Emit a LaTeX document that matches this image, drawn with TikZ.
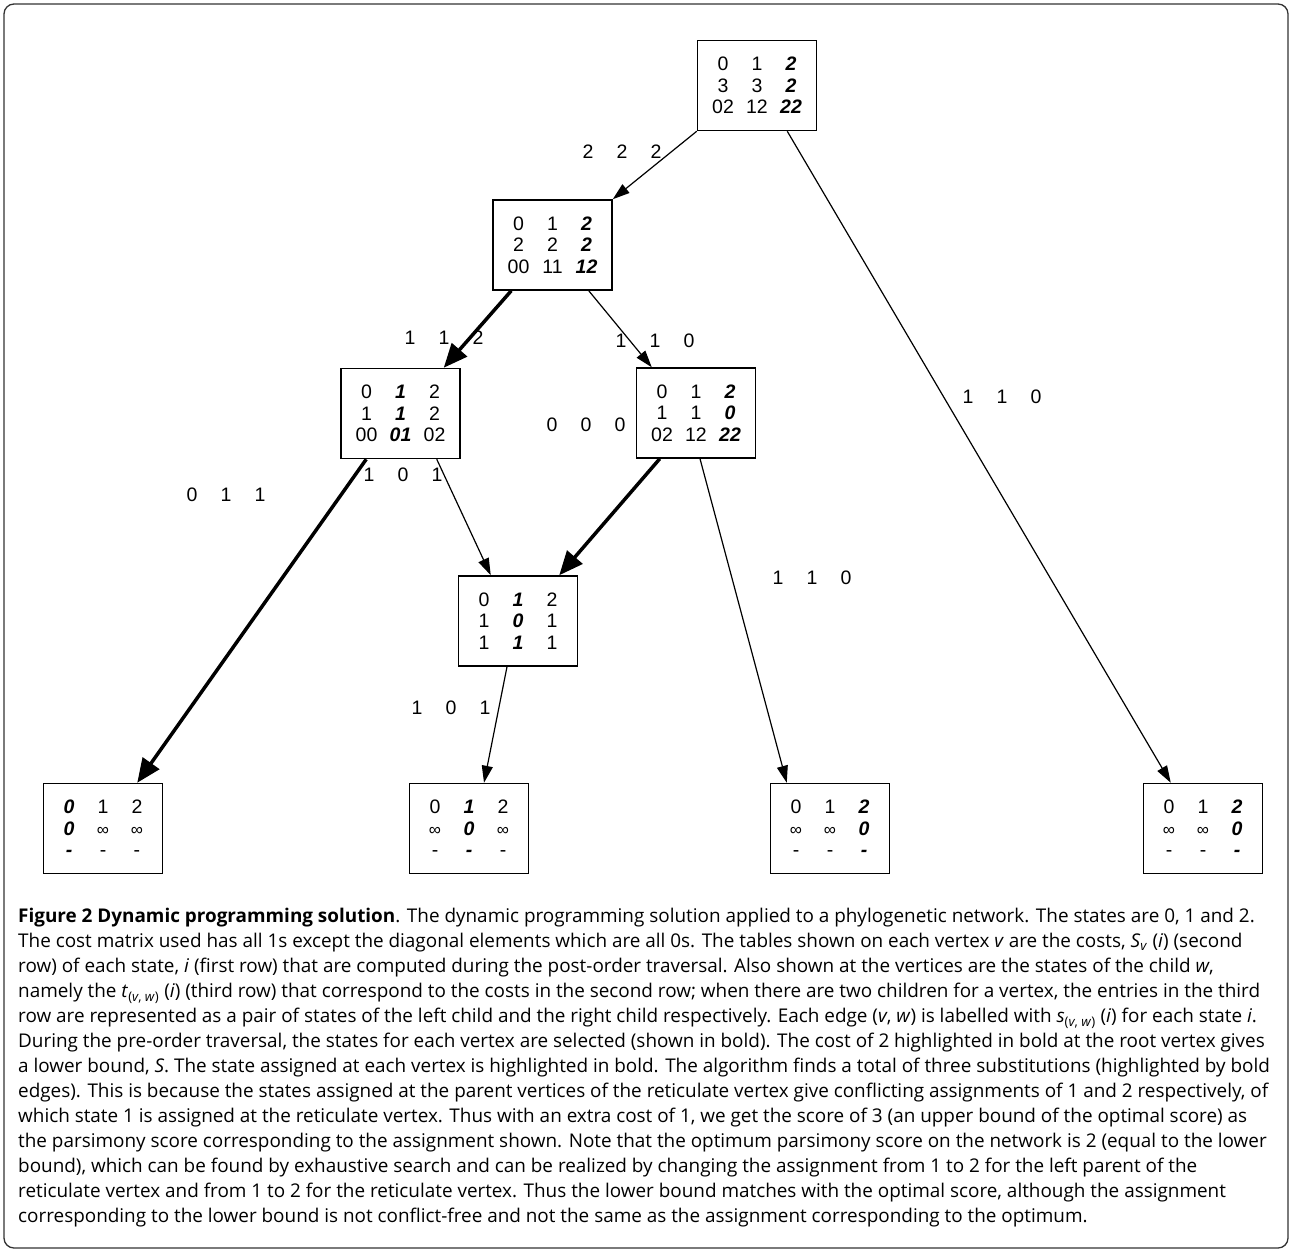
\documentclass[tikz,border=0pt]{standalone}
\usepackage{fontspec}
\newfontfamily\diafont{Liberation Sans}
\newfontfamily\capfont{Open Sans}
\usetikzlibrary{arrows.meta}
\newcommand{\bi}[1]{{\bfseries\itshape #1}}
\newcommand{\trow}[3]{\makebox[34pt]{#1}\makebox[34pt]{#2}\makebox[34pt]{#3}}
\newcommand{\inft}{{\fontsize{17}{17}\selectfont ∞}}
\tikzset{
  vbox/.style={draw, line width=1.5pt, minimum width=119pt, minimum height=90pt, inner sep=0pt,
    font=\diafont\fontsize{19.5}{21.5}\selectfont, align=center},
  thinedge/.style={line width=1.2pt, -{Triangle[length=17pt,width=11pt]}},
  thickedge/.style={line width=3.5pt, -{Triangle[length=24pt,width=20pt]}},
  elabel/.style={font=\diafont\fontsize{19.5}{21.5}\selectfont, inner sep=0pt},
}
\begin{document}
\begin{tikzpicture}[x=1pt,y=-1pt]
\useasboundingbox (0,0) rectangle (1292,1252);
\draw[rounded corners=10pt, line width=1.3pt, black!80] (4,4) rectangle (1288,1248);

% vertices
\node[vbox] (root) at (757,85.5) {\trow{0}{1}{\bi{2}}\\\trow{3}{3}{\bi{2}}\\\trow{02}{12}{\bi{22}}};
\node[vbox] (A) at (552.5,245) {\trow{0}{1}{\bi{2}}\\\trow{2}{2}{\bi{2}}\\\trow{00}{11}{\bi{12}}};
\node[vbox] (B) at (400.5,413.5) {\trow{0}{\bi{1}}{2}\\\trow{1}{\bi{1}}{2}\\\trow{00}{\bi{01}}{02}};
\node[vbox] (C) at (696,413) {\trow{0}{1}{\bi{2}}\\\trow{1}{1}{\bi{0}}\\\trow{02}{12}{\bi{22}}};
\node[vbox] (R) at (518,621) {\trow{0}{\bi{1}}{2}\\\trow{1}{\bi{0}}{1}\\\trow{1}{\bi{1}}{1}};
\node[vbox] (L1) at (103,828.5) {\trow{\bi{0}}{1}{2}\\\trow{\bi{0}}{\inft}{\inft}\\\trow{\bi{-}}{-}{-}};
\node[vbox] (L2) at (469,828.5) {\trow{0}{\bi{1}}{2}\\\trow{\inft}{\bi{0}}{\inft}\\\trow{-}{\bi{-}}{-}};
\node[vbox] (L3) at (830,828.5) {\trow{0}{1}{\bi{2}}\\\trow{\inft}{\inft}{\bi{0}}\\\trow{-}{-}{\bi{-}}};
\node[vbox] (L4) at (1203,828.5) {\trow{0}{1}{\bi{2}}\\\trow{\inft}{\inft}{\bi{0}}\\\trow{-}{-}{\bi{-}}};

% edges
\draw[thinedge] (root.south west) -- (A.north east);
\draw[thinedge] ([xshift=-30pt]root.south east) -- ([xshift=28pt]L4.north west);
\draw[thickedge] ([xshift=19pt]A.south west) -- ([xshift=-17pt]B.north east);
\draw[thinedge] ([xshift=-24pt]A.south east) -- ([xshift=16pt]C.north west);
\draw[thickedge] ([xshift=26pt]B.south west) -- ([xshift=-26pt]L1.north east);
\draw[thinedge] ([xshift=-24pt]B.south east) -- ([xshift=33pt]R.north west);
\draw[thickedge] ([xshift=24pt]C.south west) -- ([xshift=-19pt]R.north east);
\draw[thinedge] ([xshift=4pt]C.south) -- ([xshift=17pt]L3.north west);
\draw[thinedge] ([xshift=-11pt]R.south) -- ([xshift=15pt]L2.north);

% edge labels
\node[elabel] (e1) at (622,152) {\trow{2}{2}{2}};
\node[elabel] (e2) at (1002,397) {\trow{1}{1}{0}};
\node[elabel] (e3) at (444,338) {\trow{1}{1}{2}};
\node[elabel] (e4) at (655,341) {\trow{1}{1}{0}};
\node[elabel] (e5) at (226,495) {\trow{0}{1}{1}};
\node[elabel] (e6) at (403,475) {\trow{1}{0}{1}};
\node[elabel] (e7) at (586,425) {\trow{0}{0}{0}};
\node[elabel] (e8) at (812,578) {\trow{1}{1}{0}};
\node[elabel] (e9) at (451,708) {\trow{1}{0}{1}};

% caption
\node[anchor=north west, align=left, inner sep=0pt, font=\capfont\fontsize{18.9}{25}\selectfont] (cap) at (18,908) {%
\textbf{Figure 2 Dynamic programming solution}. The dynamic programming solution applied to a phylogenetic network. The states are 0, 1 and 2.\\
The cost matrix used has all 1s except the diagonal elements which are all 0s. The tables shown on each vertex \textit{v} are the costs, \textit{S}\textsubscript{\textit{v}} (\textit{i}) (second\\
row) of each state, \textit{i} (first row) that are computed during the post-order traversal. Also shown at the vertices are the states of the child \textit{w},\\
namely the \textit{t}\textsubscript{(\textit{v}, \textit{w})} (\textit{i}) (third row) that correspond to the costs in the second row; when there are two children for a vertex, the entries in the third\\
row are represented as a pair of states of the left child and the right child respectively. Each edge (\textit{v}, \textit{w}) is labelled with \textit{s}\textsubscript{(\textit{v}, \textit{w})} (\textit{i}) for each state \textit{i}.\\
During the pre-order traversal, the states for each vertex are selected (shown in bold). The cost of 2 highlighted in bold at the root vertex gives\\
a lower bound, \textit{S}. The state assigned at each vertex is highlighted in bold. The algorithm finds a total of three substitutions (highlighted by bold\\
edges). This is because the states assigned at the parent vertices of the reticulate vertex give conflicting assignments of 1 and 2 respectively, of\\
which state 1 is assigned at the reticulate vertex. Thus with an extra cost of 1, we get the score of 3 (an upper bound of the optimal score) as\\
the parsimony score corresponding to the assignment shown. Note that the optimum parsimony score on the network is 2 (equal to the lower\\
bound), which can be found by exhaustive search and can be realized by changing the assignment from 1 to 2 for the left parent of the\\
reticulate vertex and from 1 to 2 for the reticulate vertex. Thus the lower bound matches with the optimal score, although the assignment\\
corresponding to the lower bound is not conflict-free and not the same as the assignment corresponding to the optimum.};
\end{tikzpicture}
\end{document}
